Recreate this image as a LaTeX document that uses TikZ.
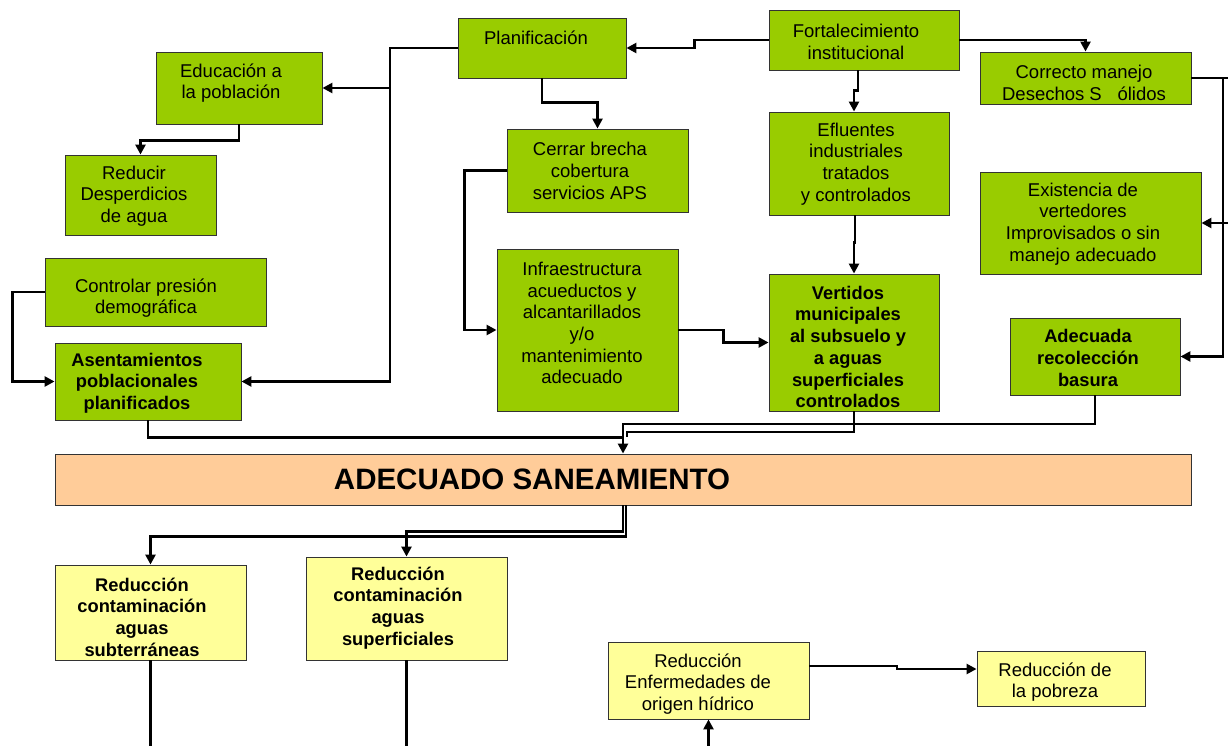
\documentclass[tikz,border=0pt]{standalone}
\usepackage{fontspec}
\setmainfont{Liberation Sans}
\usetikzlibrary{arrows.meta,fit}
\definecolor{gfill}{HTML}{99CC00}
\definecolor{yfill}{HTML}{FFFF99}
\definecolor{ofill}{HTML}{FFCC99}
\tikzset{
  bx/.style={draw=black!80, line width=0.9pt, inner sep=0pt},
  gb/.style={bx, fill=gfill},
  yb/.style={bx, fill=yfill},
  ob/.style={bx, fill=ofill},
  txt/.style={align=center, inner sep=0pt, font=\fontsize{18.5}{21.7}\selectfont},
  btxt/.style={txt, font=\fontsize{18.3}{21.7}\selectfont\bfseries},
  ln/.style={line width=2.6pt, black},
  arr/.style={ln, -{Triangle[length=10pt,width=10pt]}},
}
\begin{document}
\begin{tikzpicture}[x=1pt,y=-1pt]
\useasboundingbox (0,0) rectangle (1228,746);
% boxes
\node[gb, fit={(156,52)(322,124)}] (edu) {};
\node[gb, fit={(65,155)(216,235)}] (red) {};
\node[gb, fit={(458,18)(626,78)}] (plan) {};
\node[gb, fit={(769,10)(959,70)}] (fort) {};
\node[gb, fit={(980,52)(1191,104)}] (corr) {};
\node[gb, fit={(507,129)(688,212)}] (cerr) {};
\node[gb, fit={(769,112)(949,215)}] (efl) {};
\node[gb, fit={(980,172)(1201,274)}] (exist) {};
\node[gb, fit={(45,258)(266,326)}] (ctrl) {};
\node[gb, fit={(55,343)(241,420)}] (asent) {};
\node[gb, fit={(497,249)(678,411)}] (infra) {};
\node[gb, fit={(769,274)(939,411)}] (vert) {};
\node[gb, fit={(1010,318)(1180,395)}] (adec) {};
\node[ob, fit={(55,454)(1191,505)}] (sane) {};
\node[yb, fit={(55,565)(246,660)}] (rsub) {};
\node[yb, fit={(306,557)(507,660)}] (rsup) {};
\node[yb, fit={(608,642)(809,719)}] (enf) {};
\node[yb, fit={(977,651)(1145,706)}] (pob) {};
% texts
\node[txt] (t-edu) at (231,83) {Educación a\\la población};
\node[txt] (t-red) at (134,196) {Reducir\\Desperdicios\\de agua};
\node[txt] (t-plan) at (536,38) {Planificación};
\node[txt] (t-fort) at (856,42) {Fortalecimiento\\institucional};
\node[txt] (t-corr) at (1084,83) {Correcto manejo\\Desechos S\hspace{0.85em}ólidos};
\node[txt] (t-cerr) at (590,171) {Cerrar brecha\\cobertura\\servicios APS};
\node[txt] (t-efl) at (856,164) {Efluentes\\industriales\\tratados\\y controlados};
\node[txt] (t-exist) at (1083,224) {Existencia de\\vertedores\\Improvisados o sin\\manejo adecuado};
\node[txt] (t-ctrl) at (146,298) {Controlar presión\\demográfica};
\node[btxt] (t-asent) at (137,383) {Asentamientos\\poblacionales\\planificados};
\node[txt] (t-infra) at (582,323) {Infraestructura\\acueductos y\\alcantarillados\\y/o\\mantenimiento\\adecuado};
\node[btxt] (t-vert) at (848,347) {Vertidos\\municipales\\al subsuelo y\\a aguas\\superficiales\\controlados};
\node[btxt] (t-adec) at (1088,358) {Adecuada\\recolección\\basura};
\node[txt, font=\fontsize{29.5}{32}\selectfont\bfseries] (t-sane) at (532,479) {ADECUADO SANEAMIENTO};
\node[btxt] (t-rsub) at (142,617) {Reducción\\contaminación\\aguas\\subterráneas};
\node[btxt] (t-rsup) at (398,608) {Reducción\\contaminación\\aguas\\superficiales};
\node[txt] (t-enf) at (698,684) {Reducción\\Enfermedades de\\origen hídrico};
\node[txt] (t-pob) at (1055,682) {Reducción de\\la pobreza};
% free ends
\coordinate (edgeR) at (1228,223);
\coordinate (edgeC) at (1228,78);
\coordinate (botA) at (150.5,746);
\coordinate (botB) at (406.5,746);
\coordinate (botC) at (708.5,746);
% connectors
\draw[arr] (plan.west) -| (390,381.5) -- (asent.east);
\draw[arr] (390,88) -- (edu.east);
\draw[arr] (edu.south) -- ++(0,16) -| (red.north);
\draw[arr] (ctrl.west) -- ++(-32,0) |- (asent.west);
\draw[arr] (fort.west) -- ++(-74,0) |- (plan.east);
\draw[arr] (fort.east) -| (corr.north);
\draw[arr] ([xshift=-6pt]fort.south) -- ++(0,20) -| ([xshift=-5pt]efl.north);
\draw[arr] (plan.south) -- ++(0,24) -| (cerr.north);
\draw[arr] (cerr.west) -- ++(-42,0) |- (infra.west);
\draw[arr] (infra.east) -- ++(45,0) |- (vert.west);
\draw[arr] ([xshift=-4pt]efl.south) -- ++(0,27) -| (vert.north);
\draw[ln] (corr.east) -- (edgeC);
\draw[arr] (1223,78) |- (adec.east);
\draw[arr] (edgeR) -- (exist.east);
\draw[ln] (adec.south) |- (sane.north |- 0,424) -- (sane.north |- 0,437);
\draw[ln] (vert.south) |- ([xshift=4pt]sane.north |- 0,432) -- ([xshift=4pt]sane.north |- 0,437);
\draw[arr] (asent.south) -- ++(0,17) -| (sane.north);
\draw[arr] (sane.south) -- ++(0,26) -| (rsup.north);
\draw[arr] ([xshift=3pt]sane.south) -- ++(0,31) -| (rsub.north);
\draw[ln] (rsub.south) -- (botA);
\draw[ln] (rsup.south) -- (botB);
\draw[arr] (botC) -- (enf.south);
\draw[arr] ([yshift=14.5pt]enf.east) -- (897,666) -- (897,669) -- ([yshift=9.5pt]pob.west);
\end{tikzpicture}
\end{document}
